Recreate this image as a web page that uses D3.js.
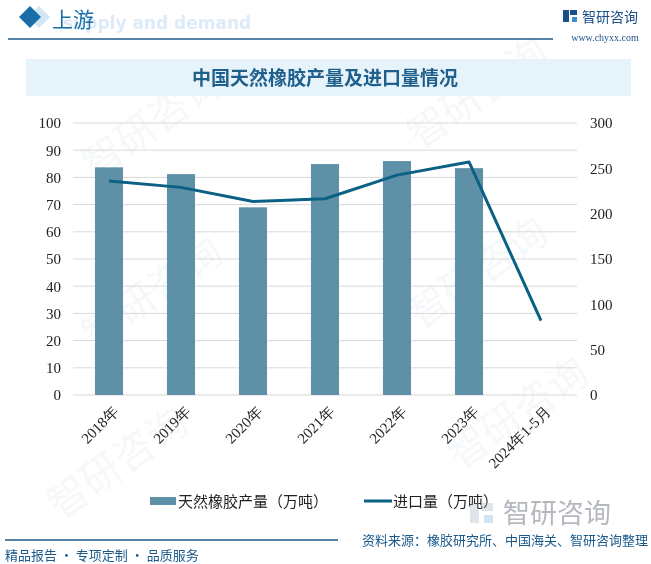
<!DOCTYPE html>
<html>
<head>
<meta charset="utf-8">
<script src="https://cdn.jsdelivr.net/npm/d3@7"></script>
<style>
body { margin: 0; background: #fff; }
svg { display: block; }
</style>
</head>
<body>
<script>
var categories = ['2018年', '2019年', '2020年', '2021年', '2022年', '2023年', '2024年1-5月'];
var output = [83.7, 81.2, 69.0, 84.9, 86.0, 83.4, null];   // 天然橡胶产量（万吨）
var imports = [236, 229, 213.5, 216.5, 242.5, 257, 82];     // 进口量（万吨）
var leftTicks = [0, 10, 20, 30, 40, 50, 60, 70, 80, 90, 100];
var rightTicks = [0, 50, 100, 150, 200, 250, 300];

var width = 651, height = 564;
var margin = {top: 123, left: 73, right: 74, bottom: 169};
var plotW = width - margin.left - margin.right;
var plotH = height - margin.top - margin.bottom;

var barColor = '#5e91a8', lineColor = '#0a6185', dark = '#1a5a8a';
var cjk = '"Noto Sans CJK SC", sans-serif';
var serif = '"Liberation Serif", "DejaVu Serif", serif';

var svg = d3.select('body').append('svg')
	.attr('width', width)
	.attr('height', height);

// faint watermarks
var wm = svg.append('g').attr('opacity', 0.045).attr('fill', '#1a5a8a');
[[95, 180], [420, 150], [95, 350], [420, 330], [60, 520], [460, 470]].forEach(function(p) {
	wm.append('text')
		.attr('transform', 'translate(' + p[0] + ',' + p[1] + ') rotate(-35)')
		.style('font-family', cjk).style('font-size', '40px')
		.text('智研咨询');
});

// header
svg.append('path').attr('d', 'M39,6 L50,17 L39,28 L28,17 Z').attr('fill', '#d3e6f3');
svg.append('path').attr('d', 'M30,6 L41,17 L30,28 L19,17 Z').attr('fill', '#1a6ea8');
svg.append('text').attr('x', 63).attr('y', 29)
	.style('font-family', '"DejaVu Sans", sans-serif').style('font-weight', 'bold')
	.style('font-size', '17px').attr('fill', '#dcebf7')
	.text('supply and demand');
svg.append('text').attr('x', 52).attr('y', 27)
	.style('font-family', cjk).style('font-size', '21px').attr('fill', '#1a6ea8')
	.text('上游');
svg.append('line').attr('x1', 8).attr('x2', 553).attr('y1', 39).attr('y2', 39)
	.attr('stroke', dark).attr('stroke-width', 1.5);

// logo top right
var logo = svg.append('g').attr('transform', 'translate(563,8)');
logo.append('rect').attr('x', 0).attr('y', 2).attr('width', 6).attr('height', 12).attr('fill', '#1a4f8a');
logo.append('rect').attr('x', 7).attr('y', 2).attr('width', 7).attr('height', 5).attr('fill', '#1a4f8a');
logo.append('rect').attr('x', 9).attr('y', 9).attr('width', 5).attr('height', 5).attr('fill', '#3a8fd0');
logo.append('text').attr('x', 19).attr('y', 14)
	.style('font-family', cjk).style('font-size', '14px').attr('fill', '#1a4f8a')
	.text('智研咨询');
svg.append('text').attr('x', 605).attr('y', 41).attr('text-anchor', 'middle')
	.style('font-family', serif).style('font-size', '10px').attr('fill', '#1a4f8a')
	.text('www.chyxx.com');

// title band
svg.append('rect').attr('x', 26).attr('y', 59).attr('width', 605).attr('height', 37)
	.attr('fill', '#e6f3fb');
svg.append('text').attr('x', 325).attr('y', 85).attr('text-anchor', 'middle')
	.style('font-family', cjk).style('font-weight', 'bold').style('font-size', '19px')
	.attr('fill', '#1f5f8b')
	.text('中国天然橡胶产量及进口量情况');

// scales
var x = d3.scaleBand().domain(categories).range([0, plotW]).paddingInner(0.61).paddingOuter(0.305);
var xc = d3.scalePoint().domain(categories).range([0, plotW]).padding(0.5);
var yL = d3.scaleLinear().domain([0, 100]).range([plotH, 0]);
var yR = d3.scaleLinear().domain([0, 300]).range([plotH, 0]);

var g = svg.append('g').attr('transform', 'translate(' + margin.left + ',' + margin.top + ')');

// gridlines
g.append('g').selectAll('line').data(leftTicks).enter().append('line')
	.attr('x1', 0).attr('x2', plotW)
	.attr('y1', function(d) { return yL(d); }).attr('y2', function(d) { return yL(d); })
	.attr('stroke', '#d9d9d9').attr('stroke-width', 1);

// left axis
var axL = g.append('g').call(d3.axisLeft(yL).tickValues(leftTicks).tickSize(0).tickPadding(12));
axL.select('.domain').remove();
axL.selectAll('text').style('font-family', serif).style('font-size', '15px').attr('fill', '#222');

// right axis
var axR = g.append('g').attr('transform', 'translate(' + plotW + ',0)')
	.call(d3.axisRight(yR).tickValues(rightTicks).tickSize(0).tickPadding(13));
axR.select('.domain').remove();
axR.selectAll('text').style('font-family', serif).style('font-size', '15px').attr('fill', '#222');

// bars
g.selectAll('.bar').data(categories.map(function(c, i) { return {c: c, v: output[i]}; })
		.filter(function(d) { return d.v != null; }))
	.enter().append('rect')
	.attr('class', 'bar')
	.attr('x', function(d) { return x(d.c); })
	.attr('width', x.bandwidth())
	.attr('y', function(d) { return yL(d.v); })
	.attr('height', function(d) { return plotH - yL(d.v); })
	.attr('fill', barColor);

// line
var line = d3.line()
	.x(function(d, i) { return xc(categories[i]); })
	.y(function(d) { return yR(d); });
g.append('path').datum(imports)
	.attr('d', line)
	.attr('fill', 'none')
	.attr('stroke', lineColor)
	.attr('stroke-width', 3)
	.attr('stroke-linejoin', 'round');

// x axis labels
var axB = g.append('g').attr('transform', 'translate(0,' + plotH + ')')
	.call(d3.axisBottom(xc).tickSize(0).tickPadding(0));
axB.select('.domain').remove();
axB.selectAll('text')
	.style('font-family', serif).style('font-size', '15px').attr('fill', '#222')
	.attr('text-anchor', 'end')
	.attr('dy', '0.35em')
	.attr('transform', 'translate(6,14) rotate(-45)');

// legend
var lg = svg.append('g').attr('transform', 'translate(150,501)');
lg.append('rect').attr('x', 0).attr('y', -4).attr('width', 26).attr('height', 8).attr('fill', barColor);
lg.append('text').attr('x', 28).attr('y', 6)
	.style('font-family', cjk).style('font-size', '15px').attr('fill', '#222')
	.text('天然橡胶产量（万吨）');
lg.append('line').attr('x1', 214).attr('x2', 242).attr('y1', 0).attr('y2', 0)
	.attr('stroke', lineColor).attr('stroke-width', 3);
lg.append('text').attr('x', 243).attr('y', 6)
	.style('font-family', cjk).style('font-size', '15px').attr('fill', '#222')
	.text('进口量（万吨）');

// bottom logo watermark
var bl = svg.append('g').attr('transform', 'translate(470,503)').attr('opacity', 0.3);
bl.append('rect').attr('x', 0).attr('y', 0).attr('width', 9).attr('height', 20).attr('fill', '#9aa4b0');
bl.append('rect').attr('x', 11).attr('y', 0).attr('width', 12).attr('height', 8).attr('fill', '#9aa4b0');
bl.append('rect').attr('x', 14).attr('y', 12).attr('width', 9).attr('height', 8).attr('fill', '#6fa3d8');
svg.append('text').attr('x', 503).attr('y', 523)
	.style('font-family', cjk).style('font-size', '27px').attr('fill', '#b5b9bf')
	.text('智研咨询');

// footer
svg.append('line').attr('x1', 5).attr('x2', 338).attr('y1', 540).attr('y2', 540)
	.attr('stroke', dark).attr('stroke-width', 1.5);
svg.append('text').attr('x', 5).attr('y', 560)
	.style('font-family', cjk).style('font-size', '13px').attr('fill', dark)
	.text('精品报告 · 专项定制 · 品质服务');
svg.append('text').attr('x', 648).attr('y', 545).attr('text-anchor', 'end')
	.style('font-family', cjk).style('font-size', '13px').attr('fill', dark)
	.text('资料来源：橡胶研究所、中国海关、智研咨询整理');
</script>
</body>
</html>
